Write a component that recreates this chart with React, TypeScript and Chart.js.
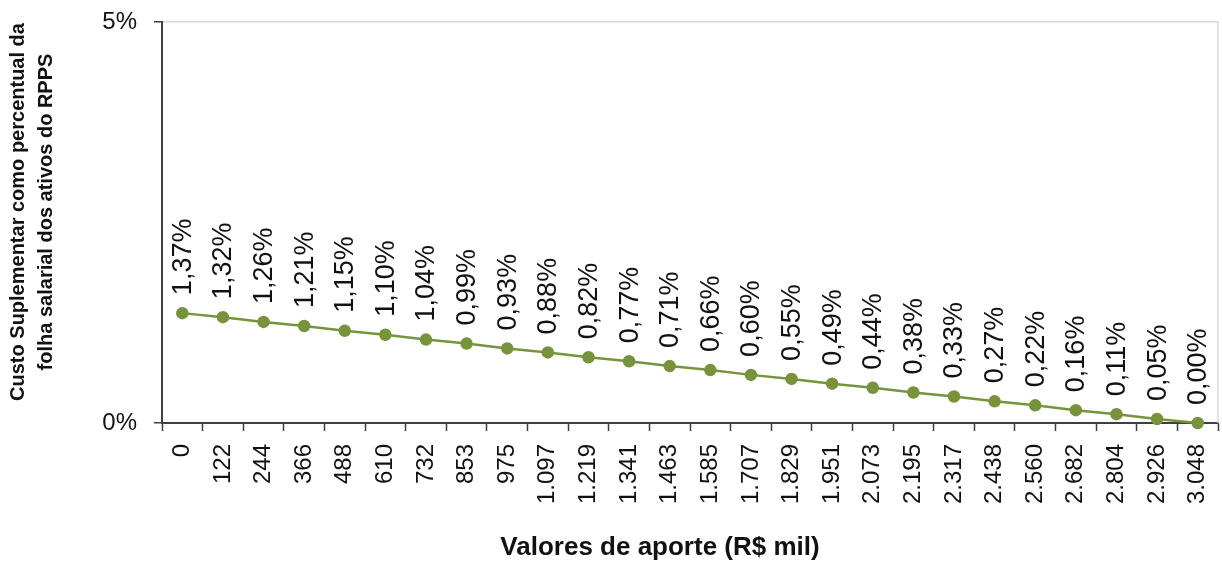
import React, { useEffect, useRef } from "react";
import { Chart, registerables } from "chart.js";

Chart.register(...registerables);

const categories: string[] = [
  "0", "122", "244", "366", "488", "610", "732", "853", "975", "1.097",
  "1.219", "1.341", "1.463", "1.585", "1.707", "1.829", "1.951", "2.073",
  "2.195", "2.317", "2.438", "2.560", "2.682", "2.804", "2.926", "3.048",
];

const custoValues: number[] = [
  1.37, 1.32, 1.26, 1.21, 1.15, 1.1, 1.04, 0.99, 0.93, 0.88, 0.82, 0.77, 0.71,
  0.66, 0.6, 0.55, 0.49, 0.44, 0.38, 0.33, 0.27, 0.22, 0.16, 0.11, 0.05, 0.0,
];

const yTicks: number[] = [0, 5];

const yTitle: string[] = [
  "Custo Suplementar como percentual da",
  "folha salarial dos ativos do RPPS",
];
const xTitle = "Valores de aporte (R$ mil)";

const FONT = "'Liberation Sans', Arial, sans-serif";
const AXIS = "#3f3f3f";
const GREEN = "#77933c";

const fmt = (v: number) => v.toFixed(2).replace(".", ",") + "%";

const labelPlugin = {
  id: "valueLabels",
  beforeDatasetsDraw(chart: any) {
    const { ctx, chartArea } = chart;
    ctx.save();
    ctx.strokeStyle = "#d9d9d9";
    ctx.lineWidth = 1.5;
    ctx.beginPath();
    ctx.moveTo(chartArea.right, chartArea.top);
    ctx.lineTo(chartArea.right, chartArea.bottom);
    ctx.stroke();
    ctx.restore();
  },
  afterDatasetsDraw(chart: any) {
    const ctx = chart.ctx;
    const meta = chart.getDatasetMeta(0);
    ctx.save();
    ctx.font = `27px ${FONT}`;
    ctx.fillStyle = "#111";
    ctx.textAlign = "left";
    ctx.textBaseline = "middle";
    meta.data.forEach((pt: any, i: number) => {
      ctx.save();
      ctx.translate(pt.x, pt.y - 18);
      ctx.rotate(-Math.PI / 2);
      ctx.fillText(fmt(custoValues[i]), 0, 1);
      ctx.restore();
    });
    ctx.restore();
  },
  afterDraw(chart: any) {
    const ctx = chart.ctx;
    ctx.save();
    ctx.fillStyle = "#111";
    ctx.textAlign = "center";
    ctx.textBaseline = "middle";
    ctx.font = `bold 26px ${FONT}`;
    ctx.fillText(xTitle, 660, 548);
    ctx.font = `bold 20px ${FONT}`;
    const xs = [18, 46];
    yTitle.forEach((line, i) => {
      ctx.save();
      ctx.translate(xs[i], 212);
      ctx.rotate(-Math.PI / 2);
      ctx.fillText(line, 0, 0);
      ctx.restore();
    });
    ctx.restore();
  },
};

export default function App() {
  const ref = useRef<HTMLCanvasElement | null>(null);

  useEffect(() => {
    if (!ref.current) return;
    const chart = new Chart(ref.current, {
      type: "line",
      data: {
        labels: categories,
        datasets: [
          {
            data: custoValues,
            borderColor: GREEN,
            backgroundColor: GREEN,
            pointBackgroundColor: GREEN,
            pointBorderColor: GREEN,
            pointRadius: 5,
            borderWidth: 2.5,
            tension: 0,
            clip: false,
          },
        ],
      },
      options: {
        animation: false,
        responsive: false,
        maintainAspectRatio: false,
        layout: { autoPadding: false, padding: { left: 0, right: 4, top: 22, bottom: 0 } },
        plugins: {
          legend: { display: false },
          tooltip: { enabled: false },
        },
        scales: {
          x: {
            type: "category",
            offset: true,
            grid: {
              offset: true,
              drawOnChartArea: false,
              drawTicks: true,
              tickLength: 8,
              tickColor: AXIS,
              tickWidth: 1.5,
            },
            border: { display: true, color: AXIS, width: 2 },
            ticks: {
              autoSkip: false,
              minRotation: 90,
              maxRotation: 90,
              padding: 13,
              color: "#111",
              font: { family: FONT, size: 24 },
            },
            title: { display: false },
            afterFit: (scale: any) => {
              scale.height = 139;
              scale.paddingLeft = 0;
              scale.paddingRight = 0;
            },
          },
          y: {
            min: 0,
            max: 5,
            afterBuildTicks: (scale: any) => {
              scale.ticks = yTicks.map((v) => ({ value: v }));
            },
            grid: {
              color: (c: any) => (c.tick && c.tick.value === 5 ? "#d9d9d9" : "rgba(0,0,0,0)"),
              lineWidth: 1.5,
              drawTicks: true,
              tickLength: 8,
              tickColor: AXIS,
              tickWidth: 1.5,
            },
            border: { display: true, color: AXIS, width: 2 },
            ticks: {
              padding: 17,
              color: "#111",
              font: { family: FONT, size: 24 },
              callback: (v: any) => `${v}%`,
            },
            title: { display: false },
            afterFit: (scale: any) => {
              scale.width = 162;
              scale.paddingTop = 0;
              scale.paddingBottom = 0;
            },
          },
        },
      },
      plugins: [labelPlugin],
    } as any);
    return () => chart.destroy();
  }, []);

  return (
    <div style={{ position: "fixed", left: 0, top: 0, width: 1222, height: 562, background: "#fff" }}>
      <canvas ref={ref} width={1222} height={562} style={{ width: 1222, height: 562 }} />
    </div>
  );
}
